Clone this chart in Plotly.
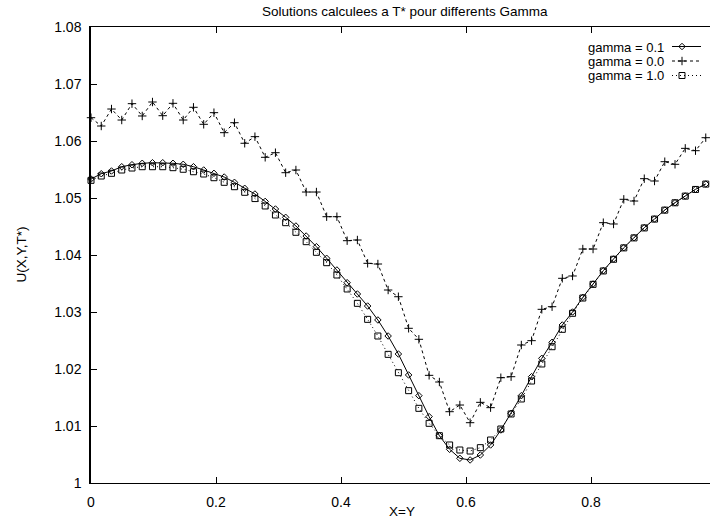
import plotly.graph_objects as go

# x = i/61, i = 0..60
n_pts = 61
x_vals = [i / 61 for i in range(n_pts)]

gamma_01 = [1.05333, 1.05426, 1.05474, 1.05549, 1.05584, 1.05609, 1.05619, 1.05619, 1.05609, 1.05591,
            1.05549, 1.05491, 1.05433, 1.05368, 1.05275, 1.05170, 1.05070, 1.04940, 1.04807, 1.04661,
            1.04509, 1.04333, 1.04146, 1.03942, 1.03737, 1.03514, 1.03316, 1.03105, 1.02860, 1.02579,
            1.02263, 1.01895, 1.01532, 1.01164, 1.00830, 1.00591, 1.00433, 1.00404, 1.00491, 1.00667,
            1.00930, 1.01222, 1.01532, 1.01865, 1.02187, 1.02468, 1.02772, 1.03000, 1.03257, 1.03491,
            1.03725, 1.03930, 1.04128, 1.04304, 1.04479, 1.04632, 1.04789, 1.04918, 1.05035, 1.05152,
            1.05246]

gamma_00 = [1.06409, 1.06263, 1.06561, 1.06368, 1.06655, 1.06439, 1.06684, 1.06444, 1.06661, 1.06368,
            1.06591, 1.06293, 1.06497, 1.06146, 1.06321, 1.05960, 1.06076, 1.05714, 1.05795, 1.05444,
            1.05491, 1.05105, 1.05105, 1.04672, 1.04672, 1.04251, 1.04263, 1.03854, 1.03842, 1.03386,
            1.03268, 1.02714, 1.02521, 1.01889, 1.01772, 1.01251, 1.01368, 1.01058, 1.01415, 1.01322,
            1.01847, 1.01865, 1.02421, 1.02497, 1.03047, 1.03093, 1.03591, 1.03632, 1.04105, 1.04105,
            1.04567, 1.04544, 1.04977, 1.04947, 1.05339, 1.05298, 1.05637, 1.05591, 1.05871, 1.05830,
            1.06058]

gamma_10 = [1.05310, 1.05386, 1.05433, 1.05491, 1.05526, 1.05549, 1.05549, 1.05549, 1.05532, 1.05504,
            1.05461, 1.05421, 1.05356, 1.05275, 1.05198, 1.05100, 1.04990, 1.04860, 1.04702, 1.04567,
            1.04398, 1.04234, 1.04047, 1.03865, 1.03649, 1.03404, 1.03152, 1.02871, 1.02579, 1.02257,
            1.01935, 1.01620, 1.01310, 1.01047, 1.00830, 1.00667, 1.00579, 1.00561, 1.00620, 1.00754,
            1.00947, 1.01211, 1.01474, 1.01789, 1.02088, 1.02391, 1.02696, 1.02977, 1.03245, 1.03485,
            1.03720, 1.03925, 1.04125, 1.04300, 1.04475, 1.04630, 1.04787, 1.04916, 1.05033, 1.05150,
            1.05244]

series_names = ["gamma = 0.1", "gamma = 0.0", "gamma = 1.0"]
series_values = [gamma_01, gamma_00, gamma_10]
series_symbols = ["diamond-open", "cross-thin-open", "square-open"]
series_sizes = [5, 6, 6]
series_dash = ["solid", "3px,3px", "1px,3px"]

x_tickvals = [0, 0.2, 0.4, 0.6, 0.8]
x_ticktext = ["0", "0.2", "0.4", "0.6", "0.8"]
y_tickvals = [1.00, 1.01, 1.02, 1.03, 1.04, 1.05, 1.06, 1.07, 1.08]
y_ticktext = ["1", "1.01", "1.02", "1.03", "1.04", "1.05", "1.06", "1.07", "1.08"]

FONT = "Liberation Sans, Arial, Helvetica, sans-serif"
W, H = 710, 520
L, R, T, B = 91, 0, 27, 37
PW, PH = W - L - R, H - T - B

def px_x(p):
    return (p - L) / PW

def px_y(p):
    return (H - B - p) / PH

fig = go.Figure()
for name, vals, sym, sz, dash in zip(series_names, series_values, series_symbols, series_sizes, series_dash):
    fig.add_trace(go.Scatter(
        x=x_vals, y=vals, mode="lines+markers", name=name,
        line=dict(color="black", width=1, dash=dash),
        marker=dict(symbol=sym, size=sz, color="black", line=dict(color="black", width=1)),
        cliponaxis=False, showlegend=False,
    ))

# custom gnuplot-style key (text then sample)
legend_rows_px = [46.5, 61.0, 75.5]
for name, sym, sz, dash, ry in zip(series_names, series_symbols, series_sizes, series_dash, legend_rows_px):
    fig.add_annotation(x=px_x(666), y=px_y(ry + 0.5), xref="paper", yref="paper",
                       text=name, showarrow=False, xanchor="right", yanchor="middle",
                       font=dict(family=FONT, size=13, color="black"))
    fig.add_trace(go.Scatter(
        x=[px_x(672), px_x(701)], y=[px_y(ry), px_y(ry)], xaxis="x2", yaxis="y2",
        mode="lines", line=dict(color="black", width=1, dash=dash),
        showlegend=False, hoverinfo="skip", cliponaxis=False))
    fig.add_trace(go.Scatter(
        x=[px_x(682)], y=[px_y(ry)], xaxis="x2", yaxis="y2", mode="markers",
        marker=dict(symbol=sym, size=sz, color="black", line=dict(color="black", width=1)),
        showlegend=False, hoverinfo="skip", cliponaxis=False))

fig.update_layout(
    width=W, height=H,
    margin=dict(l=L, r=R, t=T, b=B, pad=0),
    paper_bgcolor="white", plot_bgcolor="white",
    font=dict(family=FONT, size=14, color="black"),
    showlegend=False,
    xaxis=dict(range=[0, (W - L) / 625], tickvals=x_tickvals, ticktext=x_ticktext,
               ticks="inside", ticklen=6, tickwidth=1, tickcolor="black",
               showline=True, linecolor="black", linewidth=1, mirror="ticks",
               showgrid=False, zeroline=False, ticklabelstandoff=6,
               tickfont=dict(family=FONT, size=14, color="black")),
    yaxis=dict(range=[1.0, 1.08], tickvals=y_tickvals, ticktext=y_ticktext,
               ticks="inside", ticklen=6, tickwidth=1, tickcolor="black",
               showline=True, linecolor="black", linewidth=1.5, mirror=False,
               showgrid=False, zeroline=False, ticklabelstandoff=5,
               tickfont=dict(family=FONT, size=14, color="black")),
    xaxis2=dict(range=[0, 1], overlaying="x", visible=False, fixedrange=True),
    yaxis2=dict(range=[0, 1], overlaying="y", visible=False, fixedrange=True),
)

fig.add_annotation(x=px_x(405), y=px_y(12), xref="paper", yref="paper",
                   text="Solutions calculees a T* pour differents Gamma", showarrow=False,
                   xanchor="center", yanchor="middle", font=dict(family=FONT, size=13.5, color="black"))
fig.add_annotation(x=px_x(20.5), y=px_y(255), xref="paper", yref="paper",
                   text="U(X,Y,T*)", showarrow=False, textangle=-90,
                   xanchor="center", yanchor="middle", font=dict(family=FONT, size=13.5, color="black"))
fig.add_annotation(x=px_x(402), y=px_y(511.5), xref="paper", yref="paper",
                   text="X=Y", showarrow=False,
                   xanchor="center", yanchor="middle", font=dict(family=FONT, size=13.5, color="black"))

fig.write_html("out.html")
